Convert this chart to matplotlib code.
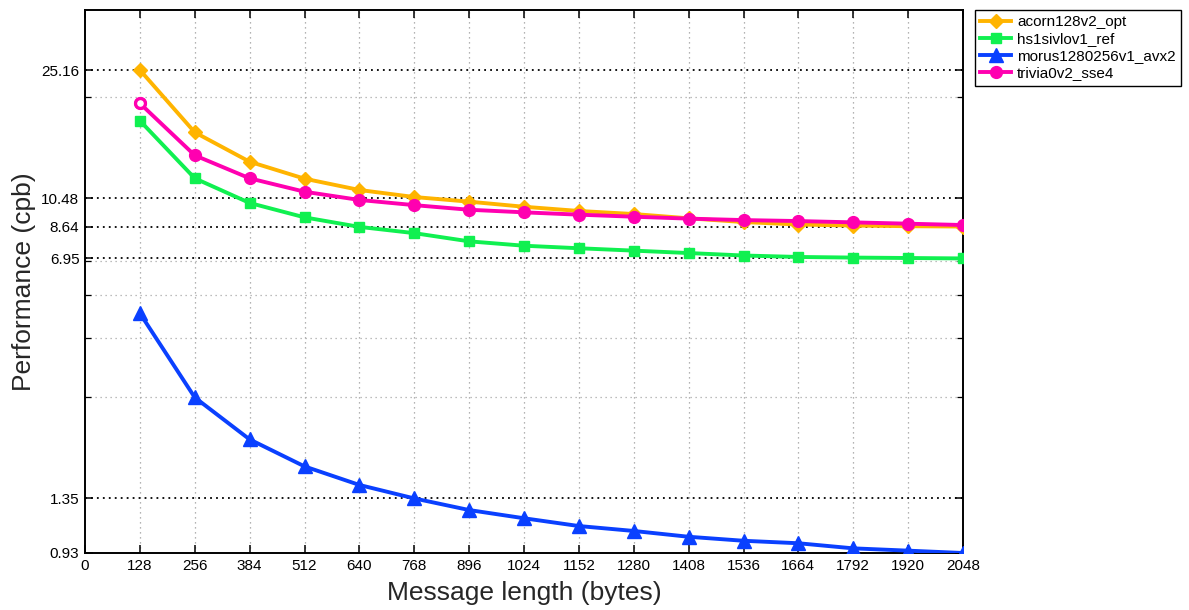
import matplotlib
matplotlib.use("Agg")
import matplotlib.pyplot as plt
from matplotlib.ticker import FixedLocator, NullFormatter

plt.rcParams['font.family'] = ['Liberation Sans', 'DejaVu Sans']

# message lengths (bytes)
msg_len = [128, 256, 384, 512, 640, 768, 896, 1024, 1152, 1280, 1408, 1536, 1664, 1792, 1920, 2048]

# cycles per byte
acorn = [25.16, 16.44, 13.45, 11.98, 11.09, 10.57, 10.24, 9.89, 9.61, 9.41, 9.14, 8.91, 8.76, 8.70, 8.66, 8.64]
hs1 = [17.80, 12.01, 10.15, 9.20, 8.62, 8.26, 7.81, 7.58, 7.45, 7.33, 7.21, 7.09, 7.02, 6.99, 6.97, 6.95]
morus = [4.78, 2.69, 2.02, 1.68, 1.48, 1.35, 1.247, 1.179, 1.118, 1.081, 1.039, 1.011, 0.994, 0.960, 0.945, 0.93]
trivia = [20.04, 14.05, 12.01, 10.96, 10.36, 10.00, 9.69, 9.52, 9.37, 9.24, 9.12, 9.03, 8.97, 8.89, 8.81, 8.73]

series_names = ['acorn128v2_opt', 'hs1sivlov1_ref', 'morus1280256v1_avx2', 'trivia0v2_sse4']

x_ticks = list(range(0, 2049, 128))
y_ticks = [0.93, 1.35, 6.95, 8.64, 10.48, 25.16]
y_tick_labels = ['0.93', '1.35', '6.95', '8.64', '10.48', '25.16']
y_minor = [2.69, 4.04, 5.41, 6.83, 20.97]

fig = plt.figure(figsize=(11.89, 6.10), dpi=100)
ax = fig.add_axes([85/1189, 1 - 553/610, (963 - 85)/1189, (553 - 10)/610])

ax.set_yscale('log')
ax.set_xlim(0, 2048)
ax.set_ylim(0.93, 37.9)

# grid lines
for xv in x_ticks[1:-1]:
    ax.axvline(xv, color='#9a9a9a', lw=0.9, ls=(0, (1, 3)), zorder=0)
for yv in y_minor:
    ax.axhline(yv, color='#a8a8a8', lw=0.9, ls=(0, (1, 3)), zorder=0)
for yv in y_ticks[1:]:
    ax.axhline(yv, color='black', lw=1.3, ls=(0, (1, 2.3)), zorder=0)

lw = 2.8
ax.plot(msg_len, acorn, color='#FFB400', lw=lw, marker='D', ms=7.5, label=series_names[0], zorder=3)
ax.plot(msg_len, hs1, color='#10F050', lw=lw, marker='s', ms=7, label=series_names[1], zorder=3)
ax.plot(msg_len, morus, color='#0A40FF', lw=lw, marker='^', ms=9.5, label=series_names[2], zorder=3)
ax.plot(msg_len, trivia, color='#FF00B0', lw=lw, marker='o', ms=8.5, label=series_names[3], zorder=4)
# hollow look of the first trivia marker
ax.plot(msg_len[0], trivia[0], marker='o', ms=7, mfc='white', mec='#FF00B0', mew=2.2, ls='none', zorder=5)

ax.xaxis.set_major_locator(FixedLocator(x_ticks))
ax.set_xticklabels([str(v) for v in x_ticks])
ax.yaxis.set_major_locator(FixedLocator(y_ticks))
ax.yaxis.set_minor_locator(FixedLocator(y_minor))
ax.yaxis.set_minor_formatter(NullFormatter())
ax.set_yticklabels(y_tick_labels)

ax.tick_params(which='major', direction='in', length=6, width=1.1, labelsize=11,
               top=True, right=True, pad=4)
ax.tick_params(which='minor', direction='in', length=4, width=0.9, top=True, right=True)
ax.tick_params(axis='x', which='minor', bottom=False, top=False)

for sp in ax.spines.values():
    sp.set_linewidth(1.4)

ax.set_xlabel('Message length (bytes)', fontsize=19, color='#262626', labelpad=6)
ax.set_ylabel('Performance (cpb)', fontsize=19, color='#262626', labelpad=4)

leg = ax.legend(loc='upper left', bbox_to_anchor=(975/1189, 1 - 10/610),
                bbox_transform=fig.transFigure, borderaxespad=0, fontsize=11,
                fancybox=False, framealpha=1, edgecolor='black',
                handlelength=2.0, labelspacing=0.2, borderpad=0.35, handletextpad=0.4)
leg.get_frame().set_linewidth(1.0)

fig.savefig('out.png', dpi=100)
